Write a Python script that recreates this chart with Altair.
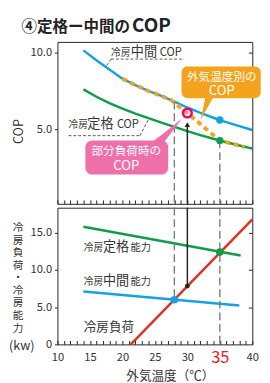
import altair as alt
import pandas as pd

# ---------------- data ----------------
# top panel: COP vs outdoor temperature
cop_temp = [14, 16, 18, 20, 22, 24, 26, 28, 30, 32, 34, 35, 36, 38, 40]
cop_mid = [10.15, 9.5, 8.9, 8.3, 7.88, 7.5, 7.18, 6.8, 6.42, 6.07, 5.75, 5.6, 5.46, 5.2, 4.95]
cop_rated = [7.6, 7.12, 6.7, 6.35, 6.02, 5.72, 5.43, 5.15, 4.88, 4.62, 4.38, 4.26, 4.15, 3.94, 3.73]
var_temp = [20, 22, 24, 26, 27.6, 30, 35, 38.8]
cop_var = [8.3, 7.88, 7.5, 7.18, 6.88, 6.06, 4.26, 3.84]

# bottom panel: cooling load / capacity (kW)
rated_cap_temp = [14, 38.2]
rated_cap = [15.8, 11.95]
mid_cap_temp = [14, 38]
mid_cap = [7.1, 5.23]
load_temp = [21.3, 40]
load_kw = [0, 16.8]

# key points
mid_temp, part_temp, rated_temp = 28, 30, 35
cop_mid_at28 = 6.8
cop_mid_at35 = 5.6
cop_rated_at35 = 4.26
cop_part_at30 = 6.06
cap_rated_at35 = 12.4
cap_mid_at28 = 6.0
load_at30 = 7.83

x_ticks = list(range(10, 41))

# ---------------- style ----------------
FONT = "Noto Sans CJK JP"
BLUE = "#16a2e0"
GREEN = "#0f9d4a"
RED = "#e2301f"
ORANGE = "#f5a21c"
PINK = "#ee6fa9"
MAGENTA = "#e5007f"
GRAY = "#7a7a7a"
TXT = "#333333"
INK = "#222222"

XS = alt.Scale(domain=[10, 40], nice=False, zero=False)
YT_MIN, YT_MAX = 0.13, 10.7
YB_MIN, YB_MAX = 0, 18.36
YTS = alt.Scale(domain=[YT_MIN, YT_MAX], nice=False, zero=False)
YBS = alt.Scale(domain=[YB_MIN, YB_MAX], nice=False, zero=False)
W, HT, HB = 201, 167, 141

top_x_axis = alt.Axis(values=x_ticks, labels=False, tickSize=4, offset=-4, domain=False,
                      grid=False, title=None, tickColor=INK)
bot_x_axis = alt.Axis(values=x_ticks, tickSize=4, offset=-4, domain=False, grid=False,
                      tickColor=INK, labelOverlap=False, labelFlush=False,
                      labelExpr="datum.value % 5 == 0 ? datum.value : ''",
                      labelBaseline="middle", labelPadding=14,
                      labelFontSize={"condition": {"test": "datum.value == 35", "value": 17}, "value": 11.5},
                      labelColor={"condition": {"test": "datum.value == 35", "value": "#e2231a"}, "value": TXT},
                      title="外気温度（℃）", titleFontSize=13, titleFontWeight="normal",
                      titleColor=TXT, titleX=116, titleY=36, titleAlign="center",
                      titleBaseline="middle", titleAnchor="start")


def XT(f):
    return alt.X(f"{f}:Q", scale=XS, axis=top_x_axis)


def XB(f):
    return alt.X(f"{f}:Q", scale=XS, axis=bot_x_axis)


def YT(f, axis=None):
    return alt.Y(f"{f}:Q", scale=YTS, axis=axis)


def YB(f, axis=None):
    return alt.Y(f"{f}:Q", scale=YBS, axis=axis)


# ================= TOP PANEL =================
df_mid = pd.DataFrame({"t": cop_temp, "v": cop_mid})
df_rated = pd.DataFrame({"t": cop_temp, "v": cop_rated})
df_var = pd.DataFrame({"t": var_temp, "v": cop_var})

top_left_axis = alt.Axis(values=[5, 10], format=".1f", tickSize=3, domain=False, grid=False,
                         labelPadding=3, tickColor=INK,
                         title="COP", titleAngle=270, titleX=-40, titleY=92,
                         titleAlign="center", titleBaseline="middle",
                         titleFontSize=13, titleFontWeight="normal", titleColor=TXT)
top_right_axis = alt.Axis(orient="right", values=[5, 10], labels=False, tickSize=4, offset=-4,
                          domain=False, grid=False, title=None, tickColor=INK)

t_blue = alt.Chart(df_mid).mark_line(color=BLUE, strokeWidth=2.5).encode(
    x=XT("t"), y=YT("v", top_left_axis))
t_green = alt.Chart(df_rated).mark_line(color=GREEN, strokeWidth=2.5).encode(
    x=XT("t"), y=YT("v"))
t_orange = alt.Chart(df_var).mark_line(color=ORANGE, strokeWidth=4, strokeDash=[5, 4]).encode(
    x=XT("t"), y=YT("v"))

df_t_guides = pd.DataFrame({"t": [mid_temp, rated_temp], "v": [cop_mid_at28, cop_rated_at35],
                            "v2": [YT_MIN, YT_MIN]})
t_guides = alt.Chart(df_t_guides).mark_rule(color=GRAY, strokeWidth=1.4, strokeDash=[8, 4]).encode(
    x=XT("t"), y=YT("v"), y2="v2")
df_t_arrow = pd.DataFrame({"t": [part_temp], "v": [5.3], "v2": [YT_MIN]})
t_arrow_line = alt.Chart(df_t_arrow).mark_rule(color=INK, strokeWidth=1.5).encode(
    x=XT("t"), y=YT("v"), y2="v2")
t_arrow_head = alt.Chart(df_t_arrow).mark_point(shape="triangle-up", filled=True, size=32,
                                                color=INK, opacity=1).encode(
    x=XT("t"), y=YT("v"))

df_t_dots = pd.DataFrame({"t": [rated_temp, rated_temp], "v": [cop_mid_at35, cop_rated_at35],
                          "c": [BLUE, GREEN]})
t_dots = alt.Chart(df_t_dots).mark_circle(size=58, opacity=1).encode(
    x=XT("t"), y=YT("v", top_right_axis), color=alt.Color("c:N", scale=None))
df_part = pd.DataFrame({"t": [part_temp], "v": [cop_part_at30]})
t_part = alt.Chart(df_part).mark_point(shape="circle", size=80, filled=False, stroke=MAGENTA,
                                       strokeWidth=2.6, opacity=1).encode(x=XT("t"), y=YT("v"))

# chart heading (drawn as text above the top panel)
head_text = ["④定格ー中間の", "COP"]
head_x = [-37, 77]
head_fs = [16, 19.5]
df_head = pd.DataFrame({"s": head_text, "px": head_x, "fs": head_fs})
t_head = alt.Chart(df_head).mark_text(align="left", baseline="alphabetic", font=FONT,
                                      fontWeight="bold", color=INK).encode(
    x=alt.X("px:Q", scale=None), y=alt.value(-10.5), text="s:N",
    size=alt.Size("fs:Q", scale=None, legend=None))

# in-plot labels (mixed sizes)
lbl_top_text = ["冷房", "中間", "COP", "冷房", "定格", "COP"]
lbl_top_t = [18.25, 21.3, 25.75, 11.7, 14.6, 19.15]
lbl_top_v = [9.77, 9.77, 9.77, 5.06, 5.06, 5.06]
lbl_top_fs = [10, 13.5, 11.5, 10, 13.5, 11.5]
df_lbl_top = pd.DataFrame({"t": lbl_top_t, "v": lbl_top_v, "s": lbl_top_text, "fs": lbl_top_fs})
t_labels = alt.Chart(df_lbl_top).mark_text(align="left", baseline="alphabetic", font=FONT,
                                           color=TXT).encode(
    x=XT("t"), y=YT("v"), text="s:N", size=alt.Size("fs:Q", scale=None, legend=None))

df_lead = pd.DataFrame({
    "t": [18.25, 18.25, 11.7, 22.7],
    "t2": [29.5, 17.4, 22.7, 24.1],
    "v": [9.58, 9.58, 4.58, 4.58],
    "v2": [9.58, 9.05, 4.58, 5.7],
})
t_leads = alt.Chart(df_lead).mark_rule(color="#555555", strokeWidth=1, strokeDash=[3, 2]).encode(
    x=XT("t"), x2="t2", y=YT("v"), y2="v2")

# orange callout
df_obox = pd.DataFrame({"t": [29.1], "t2": [41.3], "v": [9.1], "v2": [7.03]})
t_obox = alt.Chart(df_obox).mark_rect(color=ORANGE, cornerRadius=6).encode(
    x=XT("t"), x2="t2", y=YT("v"), y2="v2")
df_optr = pd.DataFrame({"t": [32.05, 32.8, 34.0], "v": [5.63, 6.17, 7.1], "v2": [5.63, 7.1, 7.1]})
t_optr = alt.Chart(df_optr).mark_area(color=ORANGE).encode(x=XT("t"), y=YT("v"), y2="v2")
df_otxt = pd.DataFrame({"t": [35.3, 35.3], "v": [8.43, 7.48], "s": ["外気温度別の", "COP"],
                        "fs": [12, 13.5]})
t_otxt = alt.Chart(df_otxt).mark_text(font=FONT, color="white", align="center",
                                      baseline="middle").encode(
    x=XT("t"), y=YT("v"), text="s:N", size=alt.Size("fs:Q", scale=None, legend=None))

# pink callout
df_pbox = pd.DataFrame({"t": [14.3], "t2": [27.05], "v": [4.26], "v2": [2.04]})
t_pbox = alt.Chart(df_pbox).mark_rect(color=PINK, cornerRadius=7).encode(
    x=XT("t"), x2="t2", y=YT("v"), y2="v2")
df_pptr = pd.DataFrame({"t": [24.7, 26.5, 29.15], "v": [4.2, 4.2, 5.68], "v2": [4.2, 4.78, 5.68]})
t_pptr = alt.Chart(df_pptr).mark_area(color=PINK).encode(x=XT("t"), y=YT("v"), y2="v2")
df_ptxt = pd.DataFrame({"t": [20.6, 20.6], "v": [3.58, 2.56], "s": ["部分負荷時の", "COP"],
                        "fs": [12, 13.5]})
t_ptxt = alt.Chart(df_ptxt).mark_text(font=FONT, color="white", align="center",
                                      baseline="middle").encode(
    x=XT("t"), y=YT("v"), text="s:N", size=alt.Size("fs:Q", scale=None, legend=None))

top = alt.layer(
    t_blue, t_green, t_orange, t_guides, t_arrow_line, t_arrow_head, t_dots,
    t_leads, t_labels, t_obox, t_optr, t_otxt, t_pbox, t_pptr, t_ptxt, t_part
).resolve_axis(y="independent").properties(width=W, height=HT)

# ================= BOTTOM PANEL =================
bot_left_axis = alt.Axis(values=[0, 5, 10, 15], tickSize=3, domain=False, grid=False,
                         labelPadding=3, tickColor=INK,
                         labelExpr="datum.value == 0 ? '0' : format(datum.value, '.1f')",
                         title=["冷", "房", "負", "荷", "・", "冷", "房", "能", "力"],
                         titleAngle=0, titleX=-41, titleY=15, titleAlign="center",
                         titleBaseline="top", titleLineHeight=12.9, titleFontSize=11,
                         titleFontWeight="normal", titleColor=TXT)
bot_right_axis = alt.Axis(orient="right", values=[5, 10, 15], labels=False, tickSize=4, offset=-4,
                          domain=False, grid=False, title=None, tickColor=INK)

df_rc = pd.DataFrame({"t": rated_cap_temp, "v": rated_cap})
df_mc = pd.DataFrame({"t": mid_cap_temp, "v": mid_cap})
df_ld = pd.DataFrame({"t": load_temp, "v": load_kw})

b_green = alt.Chart(df_rc).mark_line(color=GREEN, strokeWidth=2.5).encode(
    x=XB("t"), y=YB("v", bot_left_axis))
b_blue = alt.Chart(df_mc).mark_line(color=BLUE, strokeWidth=2.5).encode(x=XB("t"), y=YB("v"))
b_red = alt.Chart(df_ld).mark_line(color=RED, strokeWidth=2.5).encode(x=XB("t"), y=YB("v"))

df_b_guides = pd.DataFrame({"t": [mid_temp, rated_temp], "v": [YB_MAX, YB_MAX],
                            "v2": [cap_mid_at28, YB_MIN]})
b_guides = alt.Chart(df_b_guides).mark_rule(color=GRAY, strokeWidth=1.4, strokeDash=[8, 4]).encode(
    x=XB("t"), y=YB("v"), y2="v2")
df_b_arrow = pd.DataFrame({"t": [part_temp], "v": [YB_MAX], "v2": [load_at30]})
b_arrow = alt.Chart(df_b_arrow).mark_rule(color=INK, strokeWidth=1.5).encode(
    x=XB("t"), y=YB("v"), y2="v2")

df_b_dots = pd.DataFrame({"t": [rated_temp, mid_temp], "v": [cap_rated_at35, cap_mid_at28],
                          "c": [GREEN, BLUE]})
b_dots = alt.Chart(df_b_dots).mark_circle(size=62, opacity=1).encode(
    x=XB("t"), y=YB("v", bot_right_axis), color=alt.Color("c:N", scale=None))
df_b_black = pd.DataFrame({"t": [part_temp], "v": [load_at30]})
b_black = alt.Chart(df_b_black).mark_circle(size=26, color=INK, opacity=1).encode(
    x=XB("t"), y=YB("v"))

lbl_bot_text = ["冷房", "定格", "能力", "冷房", "中間", "能力", "冷房負荷"]
lbl_bot_t = [14.05, 17.0, 21.25, 14.05, 17.0, 21.25, 14.05]
lbl_bot_v = [12.5, 12.5, 12.5, 7.95, 7.95, 7.95, 1.8]
lbl_bot_fs = [10, 13.5, 10.5, 10, 13.5, 10.5, 13]
df_lbl_bot = pd.DataFrame({"t": lbl_bot_t, "v": lbl_bot_v, "s": lbl_bot_text, "fs": lbl_bot_fs})
b_labels = alt.Chart(df_lbl_bot).mark_text(align="left", baseline="alphabetic", font=FONT,
                                           color=TXT).encode(
    x=XB("t"), y=YB("v"), text="s:N", size=alt.Size("fs:Q", scale=None, legend=None))

b_unit = alt.Chart(pd.DataFrame({"s": ["(kw)"]})).mark_text(
    align="left", baseline="middle", font=FONT, fontSize=13, color=TXT, dy=2).encode(
    x=alt.value(-50), y=alt.YDatum(0, scale=YBS, axis=None), text="s:N")

bottom = alt.layer(
    b_green, b_blue, b_red, b_guides, b_arrow, b_dots, b_black, b_labels, b_unit
).resolve_axis(y="independent").properties(width=W, height=HB)

chart = alt.vconcat(
    alt.layer(top, t_head), bottom, spacing=0,
).properties(
    padding={"left": 0, "top": 2, "right": 0, "bottom": 0}
).configure_view(
    stroke=INK, strokeWidth=1
).configure_axis(
    labelFont=FONT, titleFont=FONT, labelColor=TXT, labelFontSize=11.5
).configure_text(font=FONT)

chart.save("out.html", embed_options={"renderer": "svg", "actions": False})
